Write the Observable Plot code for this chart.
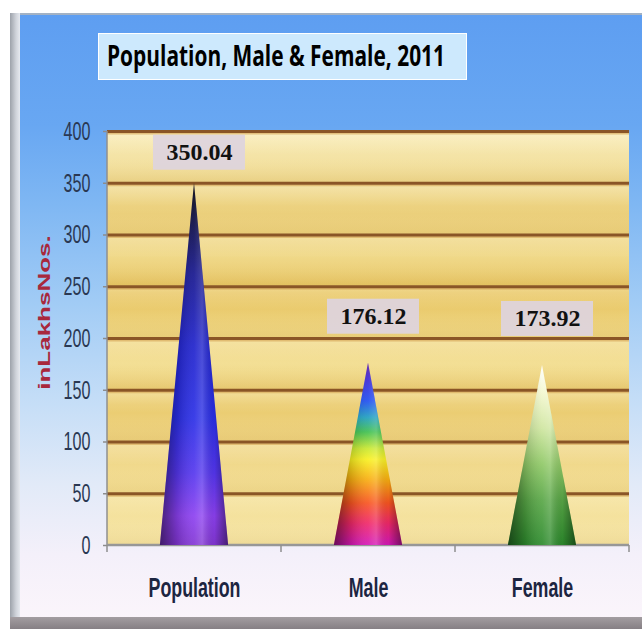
<!DOCTYPE html>
<html>
<head>
<meta charset="utf-8">
<script src="https://cdn.jsdelivr.net/npm/d3@7"></script>
<script src="https://cdn.jsdelivr.net/npm/@observablehq/plot@0.6"></script>
<style>
html, body { margin: 0; padding: 0; background: #fff; }
#wrap { position: relative; width: 642px; height: 629px; overflow: hidden; background: #fff; }
#frame { position: absolute; left: 10px; top: 13px; right: 0; height: 604px; border-top: 2px solid #a3b2c4; box-sizing: border-box;
  background: linear-gradient(to bottom, #5e9ef1 0px, #68a7f2 110px, #7fb7f3 190px, #a2ccf5 290px, #c6def7 390px, #e2eaf8 470px, #f4f0fa 540px, #fbf5fb 604px); }
#bevel { position: absolute; left: 10px; top: 13px; width: 10px; height: 604px; background: linear-gradient(to right, #9da2aa, #cfd3da 60%, #e6e9ef); }
#bottombar { position: absolute; left: 10px; right: 0; top: 617px; height: 12px; background: linear-gradient(to bottom, #a39da1, #857f84); }
#chart { position: absolute; left: 0; top: 0; }
#title { position: absolute; left: 98px; top: 33px; width: 367px; height: 45px; background: #cde9fd; border: 1px solid #ffffff; overflow: visible; }
#title span { position: absolute; left: 8px; top: 3px; white-space: nowrap; font-family: "Open Sans", "Noto Sans", sans-serif; font-weight: bold; font-size: 28px; color: #000; transform-origin: 0 50%; line-height: 36px; }
#defs { position: absolute; width: 0; height: 0; }
[aria-label^="x-axis"] text { font-size: 27px; font-weight: bold; fill: #1c2541; }
[aria-label^="y-axis"] text { font-size: 26px; fill: #2a3852; }
[aria-label^="y-axis"] line, [aria-label^="y-axis"] path { stroke: #8c8c8c; stroke-width: 1.5px; }
</style>
</head>
<body>
<div id="wrap">
  <div id="frame"></div>
  <div id="bevel"></div>
  <div id="bottombar"></div>
  <svg id="defs">
    <defs>
      <linearGradient id="gold" x1="0" y1="0" x2="0" y2="1">
        <stop offset="0" stop-color="#f8ebb8"/>
        <stop offset="0.08" stop-color="#f3e1a0"/>
        <stop offset="0.2" stop-color="#ebcf7a"/>
        <stop offset="0.3" stop-color="#f0d98a"/>
        <stop offset="0.39" stop-color="#e7c460"/>
        <stop offset="0.48" stop-color="#eed47f"/>
        <stop offset="0.56" stop-color="#f3df95"/>
        <stop offset="0.66" stop-color="#eacb6e"/>
        <stop offset="0.76" stop-color="#efd586"/>
        <stop offset="0.87" stop-color="#f3de94"/>
        <stop offset="1" stop-color="#f6e6a8"/>
      </linearGradient>
      <linearGradient id="bands" x1="0" y1="0" x2="0" y2="1"></linearGradient>
      <linearGradient id="cone0" x1="0" y1="0" x2="0" y2="1">
        <stop offset="0" stop-color="#000008"/>
        <stop offset="0.1" stop-color="#0a0a40"/>
        <stop offset="0.25" stop-color="#16168e"/>
        <stop offset="0.45" stop-color="#1f22cc"/>
        <stop offset="0.65" stop-color="#2a2ee6"/>
        <stop offset="0.8" stop-color="#5436ee"/>
        <stop offset="0.92" stop-color="#8c40f0"/>
        <stop offset="1" stop-color="#8236d4"/>
      </linearGradient>
      <linearGradient id="cone1" x1="0" y1="0" x2="0" y2="1">
        <stop offset="0" stop-color="#5a1aa8"/>
        <stop offset="0.1" stop-color="#3a2ad8"/>
        <stop offset="0.21" stop-color="#2050f0"/>
        <stop offset="0.3" stop-color="#20a0c0"/>
        <stop offset="0.38" stop-color="#40c050"/>
        <stop offset="0.47" stop-color="#c8e830"/>
        <stop offset="0.53" stop-color="#f8f020"/>
        <stop offset="0.64" stop-color="#f8ae10"/>
        <stop offset="0.77" stop-color="#f85420"/>
        <stop offset="0.88" stop-color="#f02868"/>
        <stop offset="1" stop-color="#d418b8"/>
      </linearGradient>
      <linearGradient id="cone2" x1="0" y1="0" x2="0" y2="1">
        <stop offset="0" stop-color="#ffffff"/>
        <stop offset="0.15" stop-color="#f4f8d0"/>
        <stop offset="0.35" stop-color="#cfe6a0"/>
        <stop offset="0.55" stop-color="#8fc866"/>
        <stop offset="0.75" stop-color="#58a646"/>
        <stop offset="1" stop-color="#2c8a2c"/>
      </linearGradient>
      <linearGradient id="shade" x1="0" y1="0" x2="1" y2="0">
        <stop offset="0" stop-color="#000" stop-opacity="0.5"/>
        <stop offset="0.25" stop-color="#000" stop-opacity="0.15"/>
        <stop offset="0.5" stop-color="#fff" stop-opacity="0.08"/>
        <stop offset="0.62" stop-color="#fff" stop-opacity="0.2"/>
        <stop offset="0.8" stop-color="#000" stop-opacity="0.05"/>
        <stop offset="1" stop-color="#000" stop-opacity="0.45"/>
      </linearGradient>
    </defs>
  </svg>
  <div id="chart"></div>
  <div id="title"><span>Population, Male &amp; Female, 2011</span></div>
</div>
<script>
// ---- data ----
const categories = ["Population", "Male", "Female"];
const values = [350.04, 176.12, 173.92];
const valueLabels = ["350.04", "176.12", "173.92"];
const yTicks = [0, 50, 100, 150, 200, 250, 300, 350, 400];
const yTitle = "inLakhsNos.";

const data = categories.map((c, i) => ({category: c, value: values[i], label: valueLabels[i]}));

// band overlay stops (one light/dark cycle per grid interval)
{
  const g = d3.select("#bands");
  const n = yTicks.length - 1;
  for (let k = 0; k < n; k++) {
    g.append("stop").attr("offset", k / n).attr("stop-color", "#fff8dc").attr("stop-opacity", 0.35);
    g.append("stop").attr("offset", (k + 0.45) / n).attr("stop-color", "#fff8dc").attr("stop-opacity", 0);
    g.append("stop").attr("offset", (k + 0.97) / n).attr("stop-color", "#b07a10").attr("stop-opacity", 0.1);
  }
}

const bwOf = (x) => typeof x.bandwidth === "function" ? x.bandwidth() : (x.bandwidth || 0);
const labelDy = (i) => i === 0 ? -31 : -47;
const labelDx = 5;

// plot background
const backdrop = (index, scales, values_, dims) => {
  const {width, height, marginLeft, marginRight, marginTop, marginBottom} = dims;
  const g = d3.create("svg:g").attr("aria-label", "backdrop");
  const w = width - marginLeft - marginRight, h = height - marginTop - marginBottom;
  g.append("rect").attr("x", marginLeft).attr("y", marginTop).attr("width", w).attr("height", h).attr("fill", "url(#gold)");
  g.append("rect").attr("x", marginLeft).attr("y", marginTop).attr("width", w).attr("height", h).attr("fill", "url(#bands)");
  return g.node();
};

// axis lines and category boundary ticks
const axisLines = (index, scales, values_, dims) => {
  const {width, height, marginLeft, marginRight, marginTop, marginBottom} = dims;
  const x = scales.x, bw = bwOf(x);
  const g = d3.create("svg:g").attr("aria-label", "axis lines").attr("stroke", "#8f8f8f").attr("stroke-width", 1.5);
  const base = height - marginBottom;
  g.append("line").attr("x1", marginLeft).attr("x2", marginLeft).attr("y1", marginTop).attr("y2", base);
  g.append("line").attr("x1", marginLeft).attr("x2", width - marginRight).attr("y1", base).attr("y2", base).attr("stroke-width", 2.5).attr("stroke", "#979797");
  const bounds = categories.map((c) => x(c)).concat([x(categories[categories.length - 1]) + bw]);
  bounds.forEach((bx) => g.append("line").attr("x1", bx).attr("x2", bx).attr("y1", base).attr("y2", base + 7));
  return g.node();
};

const cones = (index, scales) => {
  const x = scales.x, y = scales.y, bw = bwOf(x);
  const g = d3.create("svg:g").attr("aria-label", "cones");
  data.forEach((d, i) => {
    const cx = x(d.category) + bw / 2, half = bw * 0.196;
    const top = y(d.value), base = y(0);
    const path = `M${cx - half},${base}L${cx},${top}L${cx + half},${base}Z`;
    g.append("path").attr("d", path).attr("fill", `url(#cone${i})`);
    g.append("path").attr("d", path).attr("fill", "url(#shade)");
  });
  return g.node();
};

const labelBoxes = (index, scales) => {
  const x = scales.x, y = scales.y, bw = bwOf(x);
  const g = d3.create("svg:g").attr("aria-label", "label boxes");
  data.forEach((d, i) => {
    const cx = x(d.category) + bw / 2 + labelDx, cy = y(d.value) + labelDy(i);
    g.append("rect").attr("x", cx - 46).attr("y", cy - 17).attr("width", 92).attr("height", 35)
      .attr("fill", "#ddd4de").attr("fill-opacity", 0.92);
  });
  return g.node();
};

const textStyle = {fontFamily: "'Liberation Serif', 'Times New Roman', serif", fontWeight: "bold", fontSize: 24, fill: "#111"};

const chart = Plot.plot({
  width: 642,
  height: 629,
  marginLeft: 107,
  marginRight: 13,
  marginTop: 131,
  marginBottom: 84,
  style: {background: "transparent", color: "#1e2942", fontFamily: "'Liberation Sans', Arial, sans-serif", overflow: "visible"},
  x: {type: "band", domain: categories, padding: 0, round: false, label: null, tickSize: 0, tickPadding: 32},
  y: {domain: [0, 400], ticks: yTicks, label: null, tickSize: 4, tickPadding: 13},
  marks: [
    backdrop,
    Plot.ruleY(yTicks.filter((v) => v > 0), {stroke: "#d9ad5e", strokeWidth: 2, strokeOpacity: 0.7, dy: 2}),
    Plot.ruleY(yTicks.filter((v) => v > 0), {stroke: "#8a5526", strokeWidth: 3}),
    axisLines,
    cones,
    labelBoxes,
    Plot.text(data.slice(0, 1), {x: "category", y: "value", text: "label", dy: labelDy(0), dx: labelDx, ...textStyle}),
    Plot.text(data.slice(1), {x: "category", y: "value", text: "label", dy: labelDy(1), dx: labelDx, ...textStyle}),
    Plot.text([yTitle], {text: (d) => d, frameAnchor: "left", textAnchor: "middle", rotate: -90, dx: -63, dy: -26, fontSize: 26, fontWeight: "bold", fill: "#a8283c"})
  ]
});

// squash condensed-looking texts around their anchor
function squash(t, sx, sy) {
  const x = +t.getAttribute("x") || 0, y = +t.getAttribute("y") || 0;
  const tr = t.getAttribute("transform") || "";
  t.setAttribute("transform", `${tr} translate(${x},${y}) scale(${sx},${sy}) translate(${-x},${-y})`);
}
chart.querySelectorAll('[aria-label^="y-axis"] text').forEach((t) => squash(t, 0.62, 1));
chart.querySelectorAll('[aria-label^="x-axis"] text').forEach((t) => squash(t, 0.66, 1));
chart.querySelectorAll('text').forEach((t) => { if (t.textContent === yTitle) squash(t, 1, 0.6); });

document.getElementById("chart").appendChild(chart);

// fit the title text width
const span = document.querySelector("#title span");
const w = span.getBoundingClientRect().width;
span.style.transform = `scaleX(${338 / w})`;
</script>
</body>
</html>
